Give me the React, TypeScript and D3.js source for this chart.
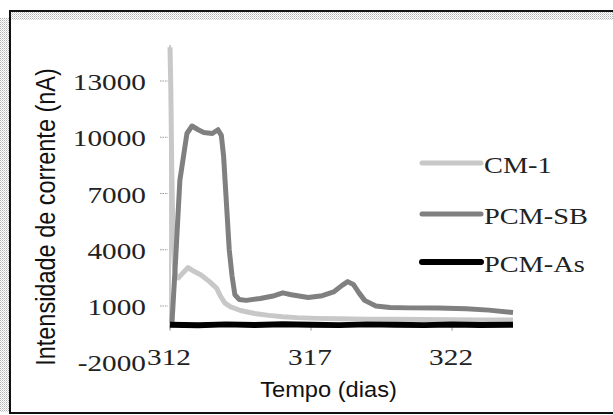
import React from 'react';
import { scaleLinear, line } from 'd3';

// series: [day, nA]
const cm1Days = [312.0, 312.03, 312.06, 312.1, 312.15, 312.2, 312.3, 312.45, 312.64, 312.85, 313.1, 313.4, 313.65, 313.8, 313.95, 314.15, 314.5, 315.0, 315.5, 316.0, 316.5, 317.2, 318.0, 319.0, 320.0, 321.0, 322.0, 323.0, 324.16];
const cm1Values = [14800, 12500, 8500, 5000, 3200, 2600, 2500, 2750, 3050, 2850, 2650, 2300, 1950, 1500, 1150, 950, 760, 600, 500, 430, 380, 340, 320, 300, 290, 280, 270, 260, 250];

const sbDays = [312.07, 312.2, 312.35, 312.5, 312.6, 312.78, 313.0, 313.2, 313.5, 313.7, 313.82, 313.9, 314.0, 314.1, 314.2, 314.3, 314.45, 314.7, 315.2, 315.7, 316.0, 316.3, 316.9, 317.4, 317.8, 318.1, 318.3, 318.5, 318.7, 318.9, 319.3, 319.8, 320.5, 321.5, 322.5, 323.3, 324.16];
const sbValues = [100, 3500, 7700, 9200, 10200, 10600, 10400, 10250, 10200, 10400, 10100, 9000, 6500, 4000, 2600, 1600, 1350, 1300, 1400, 1550, 1700, 1600, 1450, 1550, 1750, 2100, 2300, 2150, 1700, 1300, 1000, 920, 900, 890, 850, 780, 650];

const asDays = [312.0, 313.0, 314.0, 315.0, 316.0, 317.0, 318.0, 319.0, 320.0, 321.0, 322.0, 323.0, 324.16];
const asValues = [0, -30, 20, -10, 30, 0, -20, 20, 0, -20, 10, -10, 0];

const seriesNames = ['CM-1', 'PCM-SB', 'PCM-As'];
const seriesColors = ['#c8c8c8', '#808080', '#000000'];
const seriesWidths = [5, 5, 6];

const yTickValues = [13000, 10000, 7000, 4000, 1000, -2000];
const xTickValues = [312, 317, 322];

const W = 613;
const H = 415;
const SX = 1.22; // the picture is stretched sideways

const App = () => {
  const x = scaleLinear().domain([312, 324.16]).range([170, 513]);
  const y = scaleLinear().domain([-2000, 14920]).range([362.25, 45]);

  const path = line<[number, number]>()
    .x(d => x(d[0]))
    .y(d => y(d[1]));

  const series = [
    cm1Days.map((d, i) => [d, cm1Values[i]] as [number, number]),
    sbDays.map((d, i) => [d, sbValues[i]] as [number, number]),
    asDays.map((d, i) => [d, asValues[i]] as [number, number]),
  ];

  const serif = '"Liberation Serif", "Times New Roman", serif';
  const sans = '"Liberation Sans", Arial, sans-serif';

  return (
    <svg width={W} height={H} style={{ position: 'absolute', left: 0, top: 0, background: '#fff' }}>
      <defs>
        <pattern id="dots" width="2" height="2" patternUnits="userSpaceOnUse">
          <rect width="2" height="2" fill="#fff" />
          <rect width="1" height="1" fill="#b4b4b4" />
          <rect x="1" y="1" width="1" height="1" fill="#d8d8d8" />
        </pattern>
      </defs>

      {/* frame with shading */}
      <rect x={0} y={18} width={9} height={394} fill="url(#dots)" />
      <rect x={11} y={12} width={W - 11} height={8} fill="url(#dots)" />
      <line x1={10} y1={11} x2={W} y2={11} stroke="#111" strokeWidth={2} />
      <line x1={10} y1={10} x2={10} y2={414} stroke="#111" strokeWidth={2} />
      <line x1={10} y1={413} x2={W} y2={413} stroke="#111" strokeWidth={2} />

      {/* y axis */}
      <line x1={x(312)} y1={45} x2={x(312)} y2={y(0) + 4} stroke="#bbb" strokeWidth={1.5} />
      {yTickValues.filter(v => v > 0).map(v => (
        <line key={v} x1={160} x2={168} y1={y(v)} y2={y(v)} stroke="#999" strokeWidth={1} strokeDasharray="1.5 1" />
      ))}
      {yTickValues.map(v => (
        <text key={v} transform={`translate(146,${y(v) + 9}) scale(${SX},1)`} textAnchor="end"
          fontFamily={serif} fontSize={24} fill="#222">{v}</text>
      ))}

      {/* x axis */}
      <line x1={x(312)} x2={x(324.16)} y1={y(0)} y2={y(0)} stroke="#999" strokeWidth={1} />
      {xTickValues.map(v => (
        <line key={v} x1={x(v)} x2={x(v)} y1={y(0)} y2={y(0) + 6} stroke="#999" strokeWidth={1} />
      ))}
      {xTickValues.map(v => (
        <text key={v} transform={`translate(${x(v) - 1},365) scale(${SX},1)`} textAnchor="middle"
          fontFamily={serif} fontSize={24} fill="#222">{v}</text>
      ))}

      {/* series */}
      {series.map((s, i) => (
        <path key={i} d={path(s) || ''} fill="none" stroke={seriesColors[i]} strokeWidth={seriesWidths[i]}
          strokeLinejoin="round" strokeLinecap="butt" />
      ))}

      {/* legend */}
      {seriesNames.map((n, i) => {
        const ly = [163, 214, 262][i];
        return (
          <g key={n}>
            <line x1={422} x2={481} y1={ly} y2={ly} stroke={seriesColors[i]} strokeWidth={seriesWidths[i]} strokeLinecap="round" />
            <text transform={`translate(484,${ly + 10}) scale(1.18,1)`} fontFamily={serif} fontSize={24} fill="#222">{n}</text>
          </g>
        );
      })}

      {/* axis titles */}
      <text transform={`translate(328.5,397) scale(1.1,1)`} textAnchor="middle" fontFamily={sans} fontSize={21.5} fill="#111">
        Tempo (dias)
      </text>
      <text transform={`translate(55,217) scale(1.18,1) rotate(-90)`} textAnchor="middle" fontFamily={sans} fontSize={23.5} fill="#111">
        Intensidade de corrente (nA)
      </text>
    </svg>
  );
};

export default App;
